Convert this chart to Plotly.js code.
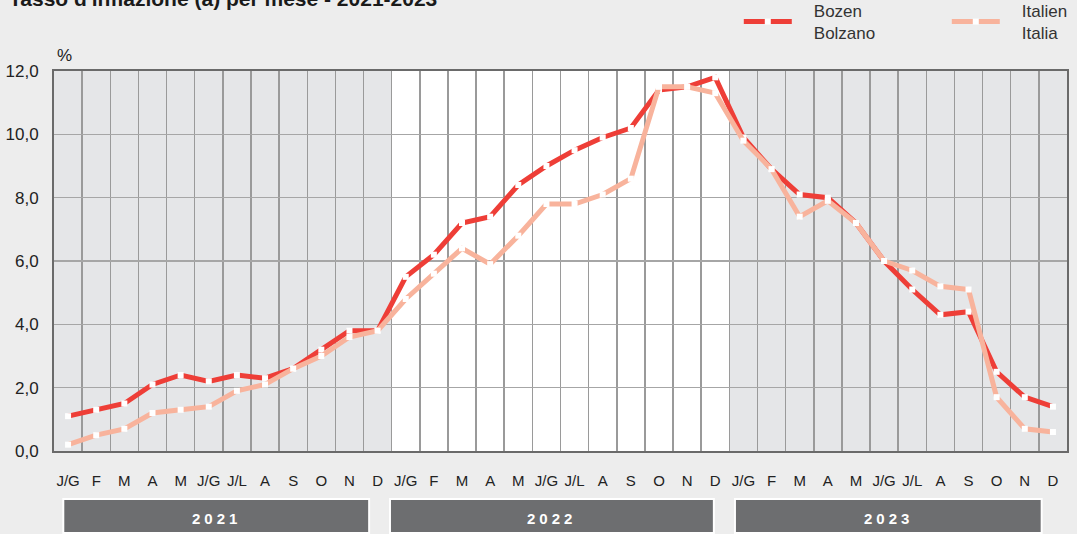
<!DOCTYPE html>
<html>
<head>
<meta charset="utf-8">
<script src="https://cdn.plot.ly/plotly-3.0.1.min.js"></script>
<style>
html,body{margin:0;padding:0;background:#ededed;}
#chart{width:1077px;height:534px;}
</style>
</head>
<body>
<div id="chart"></div>
<script>
// ---- data ----
const months = ['J/G','F','M','A','M','J/G','J/L','A','S','O','N','D'];
const years = ['2021','2022','2023'];
const bozen = [
  1.1, 1.3, 1.5, 2.1, 2.4, 2.2, 2.4, 2.3, 2.6, 3.2, 3.8, 3.8,
  5.5, 6.2, 7.2, 7.4, 8.4, 9.0, 9.5, 9.9, 10.2, 11.4, 11.5, 11.8,
  9.9, 8.9, 8.1, 8.0, 7.2, 6.0, 5.1, 4.3, 4.4, 2.5, 1.7, 1.4
];
const italia = [
  0.2, 0.5, 0.7, 1.2, 1.3, 1.4, 1.9, 2.1, 2.6, 3.0, 3.6, 3.8,
  4.8, 5.6, 6.4, 5.9, 6.8, 7.8, 7.8, 8.1, 8.6, 11.5, 11.5, 11.3,
  9.8, 8.9, 7.4, 7.9, 7.2, 6.0, 5.7, 5.2, 5.1, 1.7, 0.7, 0.6
];
const seriesNames = ['Bozen<br>Bolzano', 'Italien<br>Italia'];
const titleText = "Tasso d'inflazione (a) per mese - 2021-2023";
const yUnit = '%';

// ---- build ----
const tickText = [];
years.forEach(() => months.forEach(m => tickText.push(m)));
const xIdx = tickText.map((_, i) => i);

const FONT = 'Liberation Sans, Arial, sans-serif';
const traces = [
  {x: xIdx, y: bozen, name: seriesNames[0], mode: 'lines+markers', type: 'scatter',
   line: {color: '#ee3e37', width: 5}, marker: {symbol: 'square', size: 6, color: '#ffffff'}},
  {x: xIdx, y: italia, name: seriesNames[1], mode: 'lines+markers', type: 'scatter',
   line: {color: '#f8b39c', width: 5}, marker: {symbol: 'square', size: 6, color: '#ffffff'}}
];

const boxes = [[-0.17, 10.70], [11.44, 22.95], [23.70, 34.60]];
const shapes = [
  {type: 'rect', xref: 'x', yref: 'paper', x0: 11.5, x1: 23.5, y0: 0, y1: 1,
   fillcolor: '#ffffff', line: {width: 0}, layer: 'below'}
];
const annotations = [
  {text: '<b>' + titleText + '</b>', xref: 'paper', yref: 'paper', x: -0.0464, y: 1.1545,
   xanchor: 'left', yanchor: 'bottom', showarrow: false, font: {size: 21, color: '#1a1a1a', family: FONT}},
  {text: yUnit, xref: 'paper', yref: 'paper', x: 0.0099, y: 1.042,
   xanchor: 'center', yanchor: 'middle', showarrow: false, font: {size: 17, color: '#222', family: FONT}}
];
years.forEach((yr, k) => {
  const b = boxes[k];
  shapes.push({type: 'rect', xref: 'x', yref: 'paper', x0: b[0], x1: b[1], y0: -0.2158, y1: -0.1263,
    fillcolor: '#6d6e70', line: {color: '#ffffff', width: 2}, layer: 'above'});
  annotations.push({text: '<b>' + yr + '</b>', xref: 'x', yref: 'paper', x: (b[0] + b[1]) / 2, y: -0.178,
    xanchor: 'center', yanchor: 'middle', showarrow: false,
    font: {size: 15, color: '#ffffff', family: FONT}, captureevents: false});
});

const layout = {
  width: 1077, height: 534,
  margin: {l: 54, r: 10, t: 71, b: 83, pad: 0, autoexpand: false},
  paper_bgcolor: '#ededed',
  plot_bgcolor: '#e5e6e8',
  separators: ',.',
  font: {family: FONT, color: '#222'},
  showlegend: true,
  legend: {orientation: 'h', x: 0.676, y: 1.129, xanchor: 'left', yanchor: 'middle',
    bgcolor: 'rgba(0,0,0,0)', font: {size: 17, color: '#333', family: FONT},
    itemwidth: 48, entrywidth: 145, traceorder: 'normal'},
  xaxis: {
    range: [-0.5, 35.5], tickmode: 'array', tickvals: xIdx, ticktext: tickText, tickangle: 0,
    showgrid: false, zeroline: false, ticks: 'outside', ticklen: 15, tickcolor: 'rgba(0,0,0,0)',
    tickfont: {size: 15, color: '#222', family: FONT}, automargin: false,
    showline: true, linecolor: '#6a6a6a', linewidth: 2, mirror: true,
    minor: {tickmode: 'linear', tick0: 0.5, dtick: 1, showgrid: true, gridcolor: '#9a9a9a', gridwidth: 1.5, ticks: ''},
    fixedrange: true
  },
  yaxis: {
    range: [0, 12], tickmode: 'array', tickvals: [0, 2, 4, 6, 8, 10, 12], tickformat: '.1f',
    showgrid: true, gridcolor: '#a6a6a6', gridwidth: 1.5, zeroline: false, automargin: false,
    ticks: 'outside', ticklen: 10, tickcolor: 'rgba(0,0,0,0)',
    tickfont: {size: 17, color: '#222', family: FONT},
    showline: true, linecolor: '#6a6a6a', linewidth: 2, mirror: true,
    fixedrange: true
  },
  shapes: shapes,
  annotations: annotations
};

Plotly.newPlot('chart', traces, layout, {displayModeBar: false, staticPlot: true}).then(() => {
  document.querySelectorAll('.annotation-text').forEach(t => {
    if (/^\d{4}$/.test(t.textContent.trim())) t.style.letterSpacing = '4px';
  });
  document.querySelectorAll('.legendtext').forEach(t => {
    t.setAttribute('transform', 'translate(17,0)');
  });
});
</script>
</body>
</html>
